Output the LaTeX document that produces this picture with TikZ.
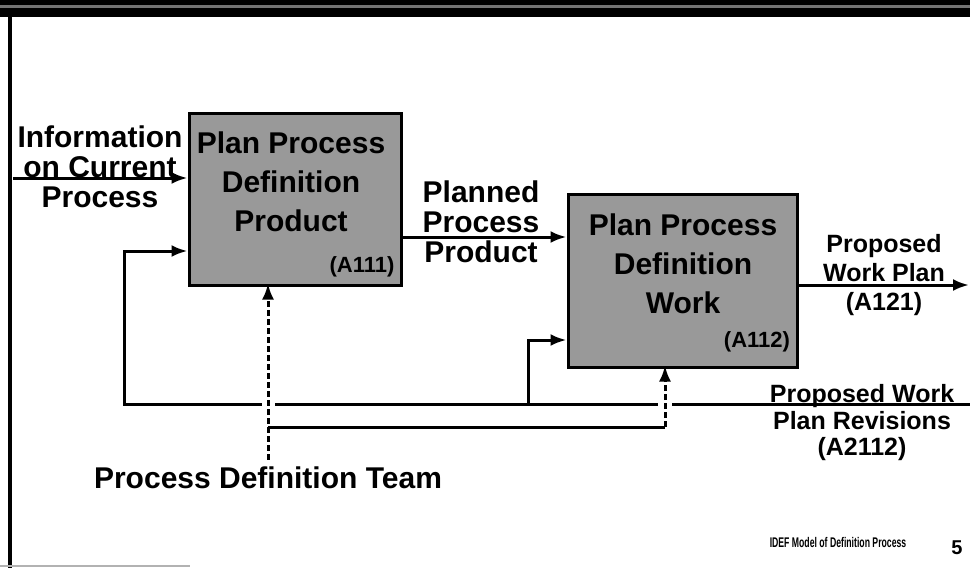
\documentclass[tikz,border=0pt]{standalone}
\usepackage{fontspec}
\setmainfont{Liberation Sans}
\usetikzlibrary{arrows.meta}

\begin{document}
\begin{tikzpicture}[x=0.5pt,y=-0.5pt,
        procbox/.style={draw, line width=1.5pt, fill=black!40},
        boxtext/.style={align=center, font=\fontsize{15}{19.5}\selectfont\bfseries},
        idtext/.style={font=\fontsize{11}{13}\selectfont\bfseries},
        lbl/.style={align=center, font=\fontsize{15}{15}\selectfont\bfseries},
        smalllbl/.style={align=center, font=\fontsize{12.5}{14.5}\selectfont\bfseries},
        flow/.style={line width=1.5pt, -{Latex[length=8pt,width=6pt]}},
        plain/.style={line width=1.5pt},
        mech/.style={line width=1.5pt, dash pattern=on 3pt off 1.5pt, shorten >=-1.5pt, -{Latex[length=8pt,width=6pt]}}]
        \useasboundingbox (0,0) rectangle (970,568);

        % Page frame
        \fill (0,0) rectangle (970,5);
        \fill[black!55] (0,5) rectangle (970,8);
        \fill (0,8) rectangle (970,17);
        \draw[line width=2pt] (10,17) -- (10,568);
        \draw[black!30, line width=1pt] (0,566) -- (190,566);

        % Activity boxes
        \node[procbox, minimum width=106pt, minimum height=86pt] (a111) at (295,199) {};
        \node[procbox, minimum width=114.5pt, minimum height=86.5pt] (a112) at (682.5,280.5) {};
        \node[boxtext] (t111) at (291,182) {Plan Process\\Definition\\Product};
        \node[boxtext] (t112) at (683,264) {Plan Process\\Definition\\Work};
        \node[idtext] (id111) at (362,267) {(A111)};
        \node[idtext] (id112) at (757,342) {(A112)};

        % Input
        \coordinate (infoin) at (13,178);
        \draw[flow] (infoin) -- (a111.west |- infoin);
        \node[lbl] (info) at (100,167) {Information\\on Current\\Process};

        % Planned process product
        \coordinate (planned) at (480,237);
        \draw[flow] (a111.east |- planned) -- (a112.west |- planned);
        \node[lbl] (plannedlbl) at (481,222) {Planned\\Process\\Product};

        % Output
        \coordinate (wpout) at (969,285);
        \draw[flow] (a112.east |- wpout) -- (wpout);
        \node[smalllbl] (wplan) at (884,275) {Proposed\\Work Plan\\(A121)};

        % Feedback of revisions
        \coordinate (fbin) at (970,404);
        \coordinate (fbturn) at (124,251);
        \coordinate (fbjoin) at (528,404);
        \coordinate (fbturn2) at (528,340);
        \draw[flow] (fbin) -| (fbturn) -- (a111.west |- fbturn);
        \draw[flow] (fbjoin) -- (fbturn2) -- (a112.west |- fbturn2);
        \node[smalllbl, font=\fontsize{12.5}{13.25}\selectfont\bfseries] (revlbl) at (862,423) {Proposed Work\\Plan Revisions\\(A2112)};

        % Mechanism
        \node[lbl] (team) at (268,478) {Process Definition Team};
        \coordinate (mechjoin) at (268,427);
        \coordinate (mechright) at (665,427);
        \draw[white, line width=6pt] (262,404) -- (275,404);
        \draw[white, line width=6pt] (658,404) -- (672,404);
        \draw[mech] (team.north) -- (team.north |- a111.south);
        \draw[plain] (mechjoin) -- (mechright);
        \draw[mech] (mechright) -- (mechright |- a112.south);

        % Footer
        \node[font=\fontsize{7}{8}\selectfont\bfseries] (footer) at (838,542) {\scalebox{0.62}[1]{IDEF Model of Definition Process}};
        \node[font=\fontsize{10}{12}\selectfont\bfseries] (page) at (957,548) {5};
\end{tikzpicture}
\end{document}
